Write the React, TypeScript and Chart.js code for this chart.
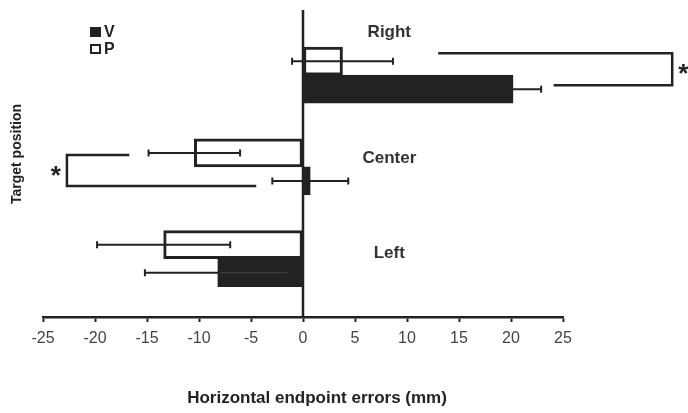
import React, { useEffect, useRef } from "react";
import { Chart, registerables } from "chart.js";

Chart.register(...registerables);

const categories = ["Right", "Center", "Left"];
const vMeans = [20.2, 0.7, -8.2];
const vErrors = [2.7, 3.65, 7.0];
const pMeans = [3.8, -10.45, -13.4];
const pErrors = [4.85, 4.4, 6.4];
const xTickMin = -25;
const xTickMax = 25;
const xTickStep = 5;
const seriesNames = ["V", "P"];
const xTitle = "Horizontal endpoint errors (mm)";
const yTitle = "Target position";
// significance brackets: category, outer edge x, end of P-row arm, end of V-row arm
const bracketCategories = ["Right", "Center"];
const bracketEdge = [35.5, -22.7];
const bracketPEnd = [13.0, -16.7];
const bracketVEnd = [24.1, -4.5];

const FONT = "'Liberation Sans', Arial, sans-serif";
const INK = "#222";

const overlayPlugin = {
  id: "overlay",
  afterDatasetsDraw(chart: any) {
    const ctx = chart.ctx;
    const xs = chart.scales.x;
    const ys = chart.scales.y;
    const area = chart.chartArea;
    ctx.save();
    ctx.strokeStyle = INK;
    ctx.fillStyle = INK;

    // zero line
    const x0 = xs.getPixelForValue(0);
    ctx.lineWidth = 2.5;
    ctx.beginPath();
    ctx.moveTo(x0, area.top);
    ctx.lineTo(x0, area.bottom);
    ctx.stroke();

    // error bars
    const pMeta = chart.getDatasetMeta(0);
    const vMeta = chart.getDatasetMeta(1);
    const drawErr = (meta: any, means: number[], errs: number[], inner: string) => {
      meta.data.forEach((bar: any, i: number) => {
        const y = bar.y;
        const a = xs.getPixelForValue(means[i] - errs[i]);
        const b = xs.getPixelForValue(means[i] + errs[i]);
        ctx.lineWidth = 2;
        ctx.strokeStyle = INK;
        ctx.beginPath();
        ctx.moveTo(a, y);
        ctx.lineTo(b, y);
        ctx.moveTo(a, y - 3.5);
        ctx.lineTo(a, y + 3.5);
        ctx.moveTo(b, y - 3.5);
        ctx.lineTo(b, y + 3.5);
        ctx.stroke();
        if (inner && means[i] < 0) {
          // faint trace of the error line where it crosses a filled bar
          const m = xs.getPixelForValue(means[i]);
          const lo = Math.max(Math.min(a, b), Math.min(m, x0));
          const hi = Math.min(Math.max(a, b), Math.max(m, x0));
          if (hi > lo + 4) {
            ctx.strokeStyle = inner;
            ctx.lineWidth = 1.5;
            ctx.beginPath();
            ctx.moveTo(lo + 2, y);
            ctx.lineTo(hi - 3, y);
            ctx.stroke();
          }
        }
      });
    };
    drawErr(pMeta, pMeans, pErrors, "");
    drawErr(vMeta, vMeans, vErrors, "#3a3a3a");

    // brackets
    ctx.strokeStyle = INK;
    const bracketYOff = [[-8, -4], [2, 5]];
    bracketCategories.forEach((cat, k) => {
      const i = categories.indexOf(cat);
      const yTop = pMeta.data[i].y + bracketYOff[k][0];
      const yBot = vMeta.data[i].y + bracketYOff[k][1];
      const xe = xs.getPixelForValue(bracketEdge[k]);
      const xp = xs.getPixelForValue(bracketPEnd[k]);
      const xv = xs.getPixelForValue(bracketVEnd[k]);
      ctx.lineWidth = 2.5;
      ctx.beginPath();
      ctx.moveTo(xp, yTop);
      ctx.lineTo(xe, yTop);
      ctx.lineTo(xe, yBot);
      ctx.lineTo(xv, yBot);
      ctx.stroke();
      ctx.font = `bold 26px ${FONT}`;
      ctx.textAlign = "center";
      ctx.textBaseline = "middle";
      const dir = bracketEdge[k] > 0 ? 1 : -1;
      ctx.fillText("*", xe + dir * 11, (yTop + yBot) / 2 + 6);
    });

    // category labels inside plot
    const labelOff = [-43, -9, -5];
    ctx.font = `bold 17px ${FONT}`;
    ctx.fillStyle = "#333";
    ctx.textAlign = "center";
    ctx.textBaseline = "middle";
    categories.forEach((c, i) => {
      const y = ys.getPixelForValue(i) + labelOff[i];
      ctx.fillText(c, xs.getPixelForValue(8.3), y);
    });

    // legend
    const lx = 90;
    const ly = [32, 49];
    ctx.font = `bold 16px ${FONT}`;
    ctx.textAlign = "left";
    seriesNames.forEach((name, i) => {
      ctx.lineWidth = 2;
      ctx.strokeStyle = INK;
      if (name === "V") {
        ctx.fillStyle = INK;
        ctx.fillRect(lx, ly[i] - 5, 11, 10);
      } else {
        ctx.fillStyle = "#fff";
        ctx.fillRect(lx + 1, ly[i] - 4, 9, 8);
        ctx.strokeRect(lx + 1, ly[i] - 4, 9, 8);
      }
      ctx.fillStyle = "#222";
      ctx.fillText(name, lx + 14, ly[i] + 1);
    });

    // axis titles
    ctx.fillStyle = "#222";
    ctx.font = `bold 17px ${FONT}`;
    ctx.textAlign = "center";
    ctx.textBaseline = "middle";
    ctx.fillText(xTitle, 317, 398);
    ctx.save();
    ctx.translate(17, 154);
    ctx.rotate(-Math.PI / 2);
    ctx.font = `bold 14px ${FONT}`;
    ctx.fillText(yTitle, 0, 0);
    ctx.restore();

    ctx.restore();
  },
};

export default function App() {
  const ref = useRef<HTMLCanvasElement>(null);
  useEffect(() => {
    if (!ref.current) return;
    const chart = new Chart(ref.current, {
      type: "bar",
      data: {
        labels: categories,
        datasets: [
          {
            label: "P",
            data: pMeans,
            backgroundColor: "#ffffff",
            borderColor: INK,
            borderWidth: 3,
            borderSkipped: false,
            barThickness: 28,
          },
          {
            label: "V",
            data: vMeans,
            backgroundColor: INK,
            borderColor: INK,
            borderWidth: 1,
            borderSkipped: false,
            barThickness: 28,
          },
        ],
      },
      options: {
        indexAxis: "y",
        animation: false,
        responsive: false,
        layout: { padding: { left: 43, right: 125, top: 10, bottom: 0 } },
        plugins: { legend: { display: false }, tooltip: { enabled: false } },
        scales: {
          x: {
            type: "linear",
            min: xTickMin,
            max: xTickMax,
            ticks: {
              stepSize: xTickStep,
              color: "#444",
              font: { family: FONT, size: 16 },
              padding: 7,
            },
            grid: {
              drawOnChartArea: false,
              color: "rgba(0,0,0,0)",
              tickColor: INK,
              tickLength: 5,
              tickWidth: 2,
            },
            border: { display: true, color: INK, width: 2.5 },
            afterFit: (s: any) => {
              s.height = 96;
            },
          },
          y: {
            type: "category",
            display: false,
            afterBuildTicks: (s: any) => {
              s._startValue = -0.71;
              s._valueRange = 3.346;
            },
          },
        },
      },
      plugins: [overlayPlugin],
    });
    return () => chart.destroy();
  }, []);
  return (
    <div style={{ position: "absolute", left: 0, top: 0, width: 688, height: 413, background: "#fff" }}>
      <canvas ref={ref} width={688} height={413} />
    </div>
  );
}
